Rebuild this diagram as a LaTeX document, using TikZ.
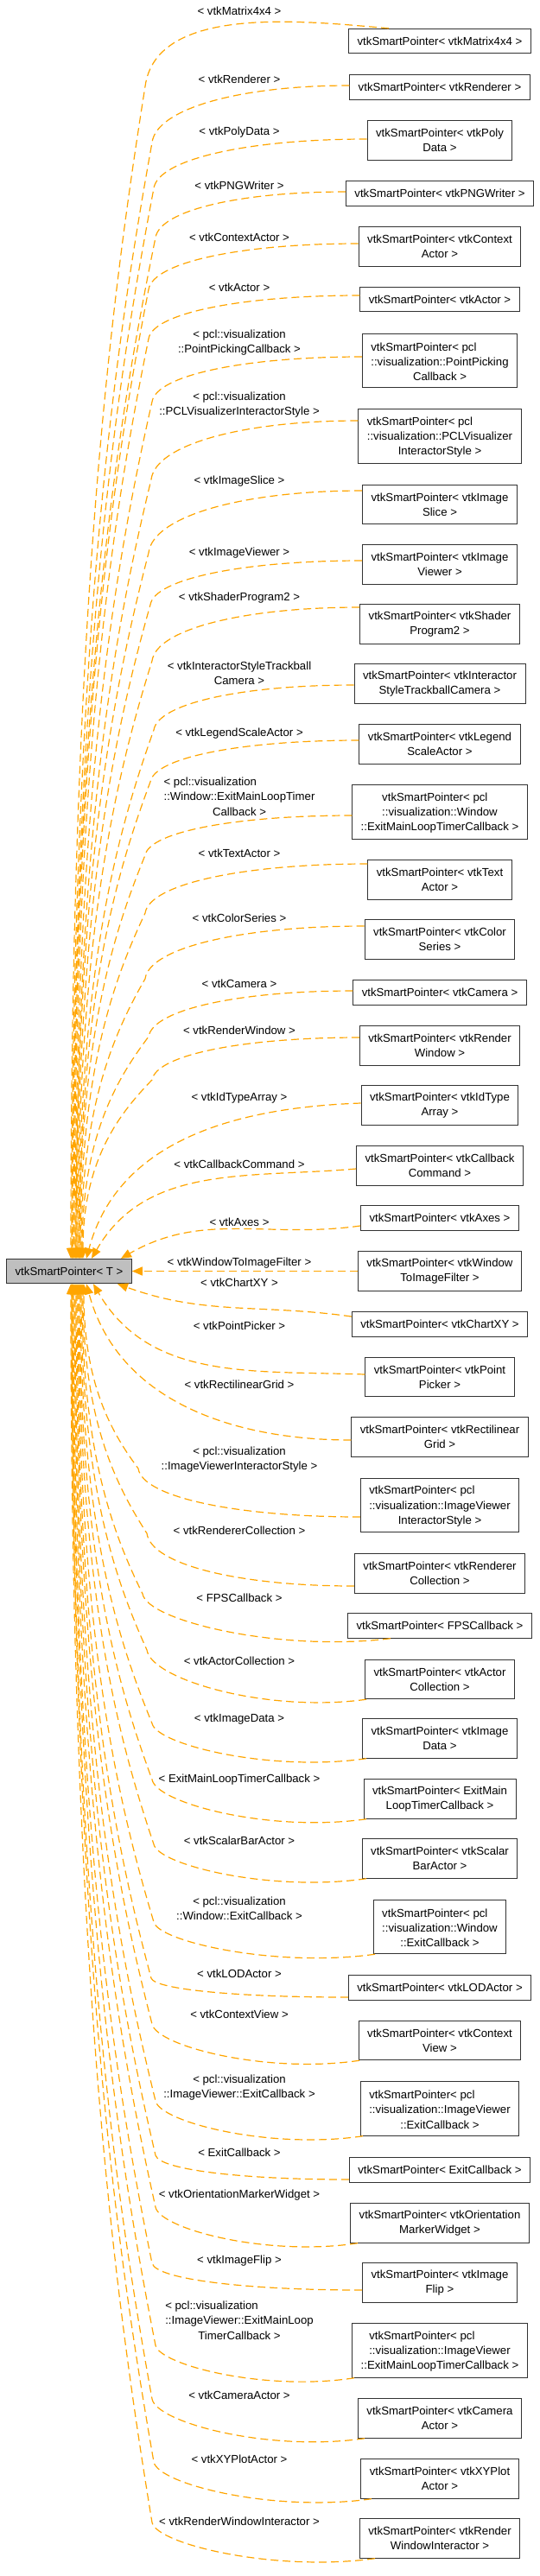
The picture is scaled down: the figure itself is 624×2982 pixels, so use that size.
\documentclass[tikz,border=0pt]{standalone}
\usepackage{fontspec}
\setmainfont{Liberation Sans}
\usepackage{tikz}
\usetikzlibrary{arrows.meta, calc}
\definecolor{edgeorange}{HTML}{FFA500}
\definecolor{basegray}{HTML}{BFBFBF}
\newcommand{\graphfont}{\fontsize{13.2pt}{17.2pt}\selectfont}
\newcommand{\leftrows}[2]{\begin{tabular}[b]{@{}l@{}}#1\end{tabular}\\#2}
\tikzset{
    diagram/.style={font=\graphfont, x=1pt, y=1pt},
    diagram box/.style={draw=black!80, line width=0.9pt, align=center,
        inner xsep=10pt, inner ysep=0pt},
    diagram arrow/.style={-{Triangle[length=12pt,width=10pt]}, draw=edgeorange,
        fill=none, line width=1.2pt, dash pattern=on 9pt off 5pt},
    diagram label/.style={align=center, inner sep=0pt},
}

\begin{document}
\begin{tikzpicture}[
        diagram,
        onebox/.style={diagram box, minimum height=28.5pt},
        twobox/.style={diagram box, minimum height=45.5pt},
        threebox/.style={diagram box, minimum height=62.5pt},
        basebox/.style={onebox, fill=basegray}
    ]
    \useasboundingbox (0,0) rectangle (624,-2982);

    % base class
    \node[basebox] (main) at (80,-1471.5) {vtkSmartPointer< T >};

    % instantiations
    \node[onebox] (b01) at (509,-47.5) {vtkSmartPointer< vtkMatrix4x4 >};
    \node[onebox] (b02) at (509,-101) {vtkSmartPointer< vtkRenderer >};
    \node[twobox] (b03) at (509,-162.5) {vtkSmartPointer< vtkPoly\\Data >};
    \node[onebox] (b04) at (509,-224) {vtkSmartPointer< vtkPNGWriter >};
    \node[twobox] (b05) at (509,-285.5) {vtkSmartPointer< vtkContext\\Actor >};
    \node[onebox] (b06) at (509,-346.5) {vtkSmartPointer< vtkActor >};
    \node[threebox] (b07) at (509,-417.5)
        {\leftrows{vtkSmartPointer< pcl\\::visualization::PointPicking}{Callback >}};
    \node[threebox] (b08) at (509,-505)
        {\leftrows{vtkSmartPointer< pcl\\::visualization::PCLVisualizer}{InteractorStyle >}};
    \node[twobox] (b09) at (509,-584) {vtkSmartPointer< vtkImage\\Slice >};
    \node[twobox] (b10) at (509,-653.5) {vtkSmartPointer< vtkImage\\Viewer >};
    \node[twobox] (b11) at (509,-722.5) {vtkSmartPointer< vtkShader\\Program2 >};
    \node[twobox] (b12) at (509,-791.5) {vtkSmartPointer< vtkInteractor\\StyleTrackballCamera >};
    \node[twobox] (b13) at (509,-861.5) {vtkSmartPointer< vtkLegend\\ScaleActor >};
    \node[threebox] (b14) at (509,-940)
        {\leftrows{vtkSmartPointer< pcl\\::visualization::Window}{::ExitMainLoopTimerCallback >}};
    \node[twobox] (b15) at (509,-1018.5) {vtkSmartPointer< vtkText\\Actor >};
    \node[twobox] (b16) at (509,-1087.5) {vtkSmartPointer< vtkColor\\Series >};
    \node[onebox] (b17) at (509,-1149) {vtkSmartPointer< vtkCamera >};
    \node[twobox] (b18) at (509,-1210.5) {vtkSmartPointer< vtkRender\\Window >};
    \node[twobox] (b19) at (509,-1279.5) {vtkSmartPointer< vtkIdType\\Array >};
    \node[twobox] (b20) at (509,-1349.5) {vtkSmartPointer< vtkCallback\\Command >};
    \node[onebox] (b21) at (509,-1410) {vtkSmartPointer< vtkAxes >};
    \node[twobox] (b22) at (509,-1471.5) {vtkSmartPointer< vtkWindow\\ToImageFilter >};
    \node[onebox] (b23) at (509,-1533) {vtkSmartPointer< vtkChartXY >};
    \node[twobox] (b24) at (509,-1594) {vtkSmartPointer< vtkPoint\\Picker >};
    \node[twobox] (b25) at (509,-1663.5) {vtkSmartPointer< vtkRectilinear\\Grid >};
    \node[threebox] (b26) at (509,-1742.5)
        {\leftrows{vtkSmartPointer< pcl\\::visualization::ImageViewer}{InteractorStyle >}};
    \node[twobox] (b27) at (509,-1821.5) {vtkSmartPointer< vtkRenderer\\Collection >};
    \node[onebox] (b28) at (509,-1882) {vtkSmartPointer< FPSCallback >};
    \node[twobox] (b29) at (509,-1944) {vtkSmartPointer< vtkActor\\Collection >};
    \node[twobox] (b30) at (509,-2012.5) {vtkSmartPointer< vtkImage\\Data >};
    \node[twobox] (b31) at (509,-2082.5) {vtkSmartPointer< ExitMain\\LoopTimerCallback >};
    \node[twobox] (b32) at (509,-2151.5) {vtkSmartPointer< vtkScalar\\BarActor >};
    \node[threebox] (b33) at (509,-2230.5)
        {\leftrows{vtkSmartPointer< pcl\\::visualization::Window}{::ExitCallback >}};
    \node[onebox] (b34) at (509,-2301) {vtkSmartPointer< vtkLODActor >};
    \node[twobox] (b35) at (509,-2362) {vtkSmartPointer< vtkContext\\View >};
    \node[threebox] (b36) at (509,-2441)
        {\leftrows{vtkSmartPointer< pcl\\::visualization::ImageViewer}{::ExitCallback >}};
    \node[onebox] (b37) at (509,-2512) {vtkSmartPointer< ExitCallback >};
    \node[twobox] (b38) at (509,-2573.5) {vtkSmartPointer< vtkOrientation\\MarkerWidget >};
    \node[twobox] (b39) at (509,-2642.5) {vtkSmartPointer< vtkImage\\Flip >};
    \node[threebox] (b40) at (509,-2721)
        {\leftrows{vtkSmartPointer< pcl\\::visualization::ImageViewer}{::ExitMainLoopTimerCallback >}};
    \node[twobox] (b41) at (509,-2799.5) {vtkSmartPointer< vtkCamera\\Actor >};
    \node[twobox] (b42) at (509,-2869.5) {vtkSmartPointer< vtkXYPlot\\Actor >};
    \node[twobox] (b43) at (509,-2938.5) {vtkSmartPointer< vtkRender\\WindowInteractor >};

    % template arguments
    \node[diagram label] (l01) at (277,-13) {< vtkMatrix4x4 >};
    \node[diagram label] (l02) at (277,-92) {< vtkRenderer >};
    \node[diagram label] (l03) at (277,-153) {< vtkPolyData >};
    \node[diagram label] (l04) at (277,-215) {< vtkPNGWriter >};
    \node[diagram label] (l05) at (277,-275) {< vtkContextActor >};
    \node[diagram label] (l06) at (277,-333) {< vtkActor >};
    \node[diagram label] (l07) at (277,-395)
        {\leftrows{< pcl::visualization}{::PointPickingCallback >}};
    \node[diagram label] (l08) at (277,-467)
        {\leftrows{< pcl::visualization}{::PCLVisualizerInteractorStyle >}};
    \node[diagram label] (l09) at (277,-557) {< vtkImageSlice >};
    \node[diagram label] (l10) at (277,-640) {< vtkImageViewer >};
    \node[diagram label] (l11) at (277,-692) {< vtkShaderProgram2 >};
    \node[diagram label] (l12) at (277,-778)
        {\leftrows{< vtkInteractorStyleTrackball}{Camera >}};
    \node[diagram label] (l13) at (277,-849) {< vtkLegendScaleActor >};
    \node[diagram label] (l14) at (277,-921)
        {\leftrows{< pcl::visualization\\::Window::ExitMainLoopTimer}{Callback >}};
    \node[diagram label] (l15) at (277,-988) {< vtkTextActor >};
    \node[diagram label] (l16) at (277,-1063) {< vtkColorSeries >};
    \node[diagram label] (l17) at (277,-1139) {< vtkCamera >};
    \node[diagram label] (l18) at (277,-1193) {< vtkRenderWindow >};
    \node[diagram label] (l19) at (277,-1271) {< vtkIdTypeArray >};
    \node[diagram label] (l20) at (277,-1348) {< vtkCallbackCommand >};
    \node[diagram label] (l21) at (277,-1415) {< vtkAxes >};
    \node[diagram label] (l22) at (277,-1462) {< vtkWindowToImageFilter >};
    \node[diagram label] (l23) at (277,-1485) {< vtkChartXY >};
    \node[diagram label] (l24) at (277,-1535) {< vtkPointPicker >};
    \node[diagram label] (l25) at (277,-1603) {< vtkRectilinearGrid >};
    \node[diagram label] (l26) at (277,-1688)
        {\leftrows{< pcl::visualization}{::ImageViewerInteractorStyle >}};
    \node[diagram label] (l27) at (277,-1772) {< vtkRendererCollection >};
    \node[diagram label] (l28) at (277,-1850) {< FPSCallback >};
    \node[diagram label] (l29) at (277,-1923) {< vtkActorCollection >};
    \node[diagram label] (l30) at (277,-1990) {< vtkImageData >};
    \node[diagram label] (l31) at (277,-2060) {< ExitMainLoopTimerCallback >};
    \node[diagram label] (l32) at (277,-2131) {< vtkScalarBarActor >};
    \node[diagram label] (l33) at (277,-2208)
        {\leftrows{< pcl::visualization}{::Window::ExitCallback >}};
    \node[diagram label] (l34) at (277,-2285) {< vtkLODActor >};
    \node[diagram label] (l35) at (277,-2332) {< vtkContextView >};
    \node[diagram label] (l36) at (277,-2415)
        {\leftrows{< pcl::visualization}{::ImageViewer::ExitCallback >}};
    \node[diagram label] (l37) at (277,-2492) {< ExitCallback >};
    \node[diagram label] (l38) at (277,-2541) {< vtkOrientationMarkerWidget >};
    \node[diagram label] (l39) at (277,-2617) {< vtkImageFlip >};
    \node[diagram label] (l40) at (277,-2685)
        {\leftrows{< pcl::visualization\\::ImageViewer::ExitMainLoop}{TimerCallback >}};
    \node[diagram label] (l41) at (277,-2773) {< vtkCameraActor >};
    \node[diagram label] (l42) at (277,-2847) {< vtkXYPlotActor >};
    \node[diagram label] (l43) at (277,-2919) {< vtkRenderWindowInteractor >};

    % edges above the base class
    \coordinate (e) at (450,0 |- b01.north);
    \draw[diagram arrow] (e) .. controls (354,-24.6) and (181,-4.4) .. (168,-100)
        .. controls ({168-0.45*(168-82)},{-100+0.18*(100-1457)})
        and (82,{-100+0.44*(100-1457)}) .. (82,0 |- main.north);
    \foreach \nd/\ey/\kx/\ky/\mx in {b02/99/176/165/83, b03/161/178/218/84,
            b04/222/180/275/84, b05/282/172/335/85, b06/342/172/392/86,
            b07/413/176/465/87, b08/487/175/555/88, b09/568/172/640/88,
            b10/649/174/700/89, b11/703/176/765/90, b12/793/178/845/91,
            b13/857/174/905/92, b14/944/168/990/92, b15/1000/168/1057/93,
            b16/1072/168/1133/94, b17/1147/172/1200/95, b18/1201/176/1250/96} {
        \coordinate (e) at (\nd.west |- 0,-\ey);
        \draw[diagram arrow] (e)
            .. controls ($(e)!0.55!(\kx,0 |- e)$) and ($(\kx,-\ky)!0.6!(\kx,0 |- e)+(5,0)$)
            .. (\kx,-\ky)
            .. controls ({\kx-0.45*(\kx-\mx)},{-\ky+0.18*(\ky-1457)})
            and (\mx,{-\ky+0.44*(\ky-1457)}) .. (\mx,0 |- main.north);
    }
    \draw[diagram arrow] (b19.west |- 0,-1277) to[out=182, in=75] (100,0 |- main.north);
    \draw[diagram arrow] (b20.west |- 0,-1353) to[out=185, in=60] (106,0 |- main.north);
    \draw[diagram arrow] (b21.west |- 0,-1419) to[out=188, in=30] (140,0 |- main.north);
    \draw[diagram arrow] (b22.west) -- (main.east);

    % edges below the base class
    \draw[diagram arrow] (b23.west |- 0,-1524) to[out=172, in=-20] (136,0 |- main.south);
    \draw[diagram arrow] (b24.west |- 0,-1591) to[out=178, in=-60] (108,0 |- main.south);
    \draw[diagram arrow] (b25.west |- 0,-1667) to[out=180, in=-75] (100,0 |- main.south);
    \foreach \nd/\ey/\kx/\ky/\mx in {b26/1756/160/1700/97, b27/1836/170/1775/96,
            b34/2312/175/2290/89, b37/2523/180/2495/86, b39/2651/176/2620/84} {
        \coordinate (e) at (\nd.west |- 0,-\ey);
        \draw[diagram arrow] (e)
            .. controls ($(e)!0.55!(\kx,0 |- e)$) and ($(\kx,-\ky)!0.6!(\kx,0 |- e)+(5,0)$)
            .. (\kx,-\ky)
            .. controls ({\kx-0.45*(\kx-\mx)},{-\ky+0.18*(\ky-1486)})
            and (\mx,{-\ky+0.44*(\ky-1486)}) .. (\mx,0 |- main.south);
    }
    \foreach \nd/\ex/\kx/\ky/\mx in {b28/452/165/1845/95, b29/424/170/1910/94,
            b30/424/176/1995/93, b31/424/176/2060/92, b32/424/178/2135/91,
            b33/434/178/2225/90, b35/416/176/2343/88, b36/420/180/2432/87,
            b38/414/180/2555/85, b40/410/180/2715/84, b41/422/176/2777/83,
            b42/430/178/2850/83, b43/434/176/2920/82} {
        \coordinate (e) at (\ex,0 |- \nd.south);
        \draw[diagram arrow] (e)
            .. controls ($(e)!0.45!(\kx,0 |- e)+(0,-16)$) and ($(\kx,-\ky)!0.6!(\kx,0 |- e)+(5,0)$)
            .. (\kx,-\ky)
            .. controls ({\kx-0.45*(\kx-\mx)},{-\ky+0.18*(\ky-1486)})
            and (\mx,{-\ky+0.44*(\ky-1486)}) .. (\mx,0 |- main.south);
    }
\end{tikzpicture}
\end{document}
